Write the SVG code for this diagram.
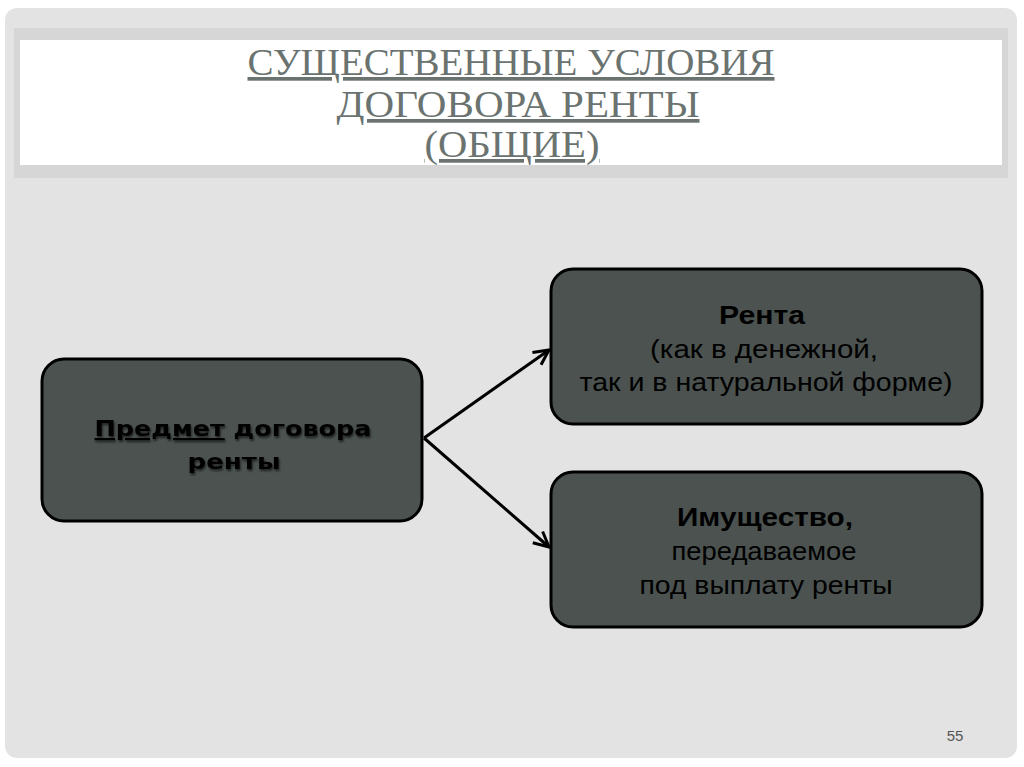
<svg xmlns="http://www.w3.org/2000/svg" width="1024" height="767" viewBox="0 0 1024 767">
<style>
.title{font-family:"Liberation Serif",serif;font-size:37px;fill:#6a7370;text-decoration:underline;text-anchor:middle}
.box{fill:#4b524f;stroke:#000;stroke-width:3}
.bt{font-family:"Liberation Sans",Arial,sans-serif;font-size:26px;fill:#000;text-anchor:middle}
.b{font-weight:bold}
.lt{font-family:"DejaVu Sans",Verdana,sans-serif;font-size:22px;font-weight:bold;fill:#000;text-anchor:middle}
.conn{stroke:#000;stroke-width:3;fill:none}
</style>
<defs>
<marker id="arr" viewBox="0 0 12 12" refX="11" refY="6" markerWidth="6" markerHeight="6" orient="auto" markerUnits="strokeWidth">
<path d="M1,1 L11,6 L1,11" fill="none" stroke="#000" stroke-width="2"/>
</marker>
<filter id="sh" x="-10%" y="-10%" width="120%" height="130%">
<feDropShadow dx="1" dy="2" stdDeviation="1.2" flood-color="#000" flood-opacity="0.6"/>
</filter>
</defs>
<rect width="1024" height="767" fill="#ffffff"/>
<rect x="5" y="8" width="1012" height="750" rx="12" fill="#e3e3e3"/>
<g id="title">
<rect x="14" y="28" width="994" height="150" fill="#d6d6d6"/>
<rect x="20" y="40" width="982" height="125" fill="#ffffff"/>
<text class="title" x="511" y="75" textLength="527" lengthAdjust="spacingAndGlyphs">СУЩЕСТВЕННЫЕ УСЛОВИЯ</text>
<text class="title" x="518" y="117" textLength="363" lengthAdjust="spacingAndGlyphs">ДОГОВОРА РЕНТЫ</text>
<text class="title" x="512" y="157" textLength="175" lengthAdjust="spacingAndGlyphs">(ОБЩИЕ)</text>
</g>
<g id="connectors">
<line class="conn" x1="424" y1="438" x2="549" y2="350" marker-end="url(#arr)"/>
<line class="conn" x1="424" y1="438" x2="549" y2="547" marker-end="url(#arr)"/>
</g>
<g id="node-subject">
<rect class="box" x="42" y="359" width="380" height="162" rx="22"/>
<g filter="url(#sh)">
<text class="lt" x="233" y="436" textLength="277" lengthAdjust="spacingAndGlyphs"><tspan text-decoration="underline">Предмет</tspan> договора</text>
<text class="lt" x="234" y="469" textLength="93" lengthAdjust="spacingAndGlyphs">ренты</text>
</g>
</g>
<g id="node-rent">
<rect class="box" x="551" y="269" width="431" height="155" rx="22"/>
<text class="bt b" x="762" y="324" textLength="86" lengthAdjust="spacingAndGlyphs">Рента</text>
<text class="bt" x="764" y="358" textLength="228" lengthAdjust="spacingAndGlyphs">(как в денежной,</text>
<text class="bt" x="766" y="391" textLength="373" lengthAdjust="spacingAndGlyphs">так и в натуральной форме)</text>
</g>
<g id="node-property">
<rect class="box" x="551" y="472" width="431" height="155" rx="22"/>
<text class="bt b" x="765" y="526" textLength="176" lengthAdjust="spacingAndGlyphs">Имущество,</text>
<text class="bt" x="764" y="560" textLength="185" lengthAdjust="spacingAndGlyphs">передаваемое</text>
<text class="bt" x="766" y="594" textLength="253" lengthAdjust="spacingAndGlyphs">под выплату ренты</text>
</g>
<text x="955" y="741" font-family="Liberation Sans,Arial,sans-serif" font-size="15" fill="#555" text-anchor="middle">55</text>
</svg>
